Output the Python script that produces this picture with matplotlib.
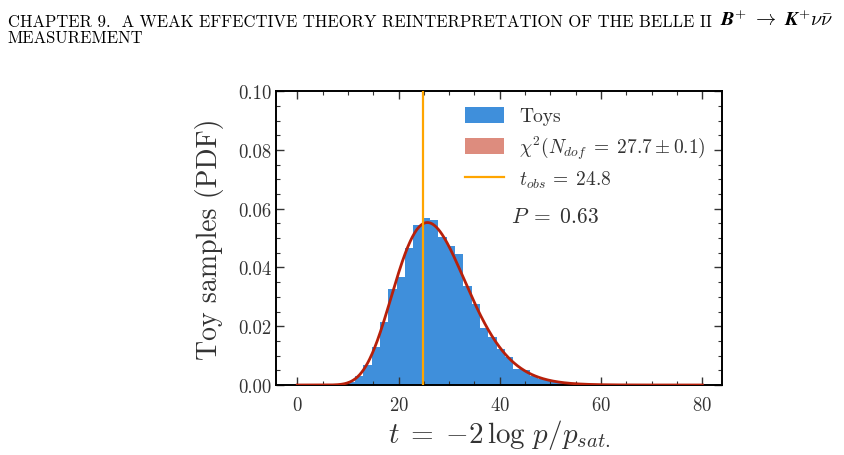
import math
import numpy as np
import matplotlib
matplotlib.use('Agg')
from matplotlib import pyplot as plt
from matplotlib.patches import Patch
from matplotlib.lines import Line2D
from matplotlib.ticker import MultipleLocator

# Histogram of toy test statistics (normalised)
bin_edges = [8.10, 9.75, 11.40, 13.04, 14.69, 16.33, 17.98, 19.63, 21.27, 22.92,
             24.56, 26.21, 27.86, 29.50, 31.15, 32.79, 34.44, 36.08, 37.73, 39.38,
             41.02, 42.67, 44.31, 45.96, 47.60, 49.25, 50.90, 52.54, 54.19, 55.83,
             57.48, 59.12]
toy_pdf = [0.0002, 0.0009, 0.0030, 0.0069, 0.0129, 0.0214, 0.0326, 0.0369, 0.0465, 0.0544,
           0.0567, 0.0561, 0.0504, 0.0472, 0.0446, 0.0337, 0.0275, 0.0195, 0.0162, 0.0122,
           0.0094, 0.0054, 0.0051, 0.0032, 0.0022, 0.0018, 0.0010, 0.0006, 0.0003, 0.0002,
           0.0001]

# Fitted chi2 and observed value
n_dof = 27.7
n_dof_err = 0.1
t_obs = 24.8
p_value = 0.63

x_ticks = [0, 20, 40, 60, 80]
y_ticks = [0.00, 0.02, 0.04, 0.06, 0.08, 0.10]

# Colours
bar_color = '#3f8fdb'
curve_color = '#b8200a'
legend_chi2_color = '#dd8c7e'
obs_color = '#ffa500'
text_color = '#333333'

plt.rcParams['font.family'] = 'serif'
plt.rcParams['font.serif'] = ['cmr10', 'DejaVu Serif']
plt.rcParams['mathtext.fontset'] = 'cm'
plt.rcParams['axes.unicode_minus'] = False
plt.rcParams['axes.formatter.use_mathtext'] = True
plt.rcParams['text.color'] = text_color
plt.rcParams['axes.labelcolor'] = text_color
plt.rcParams['xtick.labelcolor'] = text_color
plt.rcParams['ytick.labelcolor'] = text_color


def chi2_pdf(x, k):
    x = np.asarray(x, dtype=float)
    out = np.zeros_like(x)
    pos = x > 0
    logf = (k / 2 - 1) * np.log(x[pos]) - x[pos] / 2 - (k / 2) * math.log(2) - math.lgamma(k / 2)
    out[pos] = np.exp(logf)
    return out


fig = plt.figure(figsize=(8.44, 4.56), dpi=100)
ax = fig.add_axes([0.327, 0.1535, 0.528, 0.6445])

# Toys
ax.hist(bin_edges[:-1], bins=bin_edges, weights=toy_pdf, color=bar_color, zorder=1)

# Chi2 curve
t = np.linspace(0, 80, 800)
ax.plot(t, chi2_pdf(t, n_dof), color=curve_color, lw=2.0, zorder=3)

# Observed value
ax.axvline(t_obs, color=obs_color, lw=1.6, zorder=4)

ax.set_xlim(-4.2, 83.8)
ax.set_ylim(0, 0.10)
ax.set_xticks(x_ticks)
ax.set_yticks(y_ticks)
ax.set_yticklabels([f'{v:.2f}' for v in y_ticks])
ax.xaxis.set_minor_locator(MultipleLocator(5))
ax.yaxis.set_minor_locator(MultipleLocator(0.005))
ax.tick_params(which='both', direction='in', top=True, right=True, labelsize=13.5, color='#333333')
ax.tick_params(which='major', length=6, width=1.0)
ax.tick_params(which='minor', length=3, width=0.8)
ax.tick_params(axis='x', pad=8)
for s in ax.spines.values():
    s.set_linewidth(1.4)

ax.set_xlabel(r'$t\;=\; {-2}\,\log\, p/p_{sat.}$', fontsize=21, labelpad=2)
ax.set_ylabel('Toy samples (PDF)', fontsize=20, labelpad=10)

handles = [Patch(facecolor=bar_color),
           Patch(facecolor=legend_chi2_color),
           Line2D([0], [0], color=obs_color, lw=1.6)]
labels = ['Toys',
          r'$\chi^2(N_{dof}\;=\; %.1f \pm %.1f)$' % (n_dof, n_dof_err),
          r'$t_{obs}\,=\; %.1f$' % t_obs]
ax.legend(handles, labels, loc='upper right', frameon=False, fontsize=14,
          handlelength=2.0, handleheight=0.9, handletextpad=0.8, labelspacing=0.4,
          borderaxespad=0.4)

ax.text(42.2, 0.0575, r'$P\;=\; %.2f$' % p_value, fontsize=15.5, va='center', ha='left')

# Page header
head = fig.text(0.009, 0.952, 'CHAPTER 9.  A WEAK EFFECTIVE THEORY REINTERPRETATION OF THE BELLE II ',
                fontsize=12, ha='left', va='center', color='black')
fig.text(0.009, 0.917, 'MEASUREMENT', fontsize=12, ha='left', va='center', color='black')
renderer = fig.canvas.get_renderer()
bb = head.get_window_extent(renderer=renderer)
fig.text(bb.x1 / fig.bbox.width + 0.004, 0.956,
         r'$\mathbfit{B}^{+}\;\to\;\mathbfit{K}^{+}\nu\bar{\nu}$',
         fontsize=14.5, ha='left', va='center', color='black')

fig.savefig('out.png', dpi=100)
plt.close()
